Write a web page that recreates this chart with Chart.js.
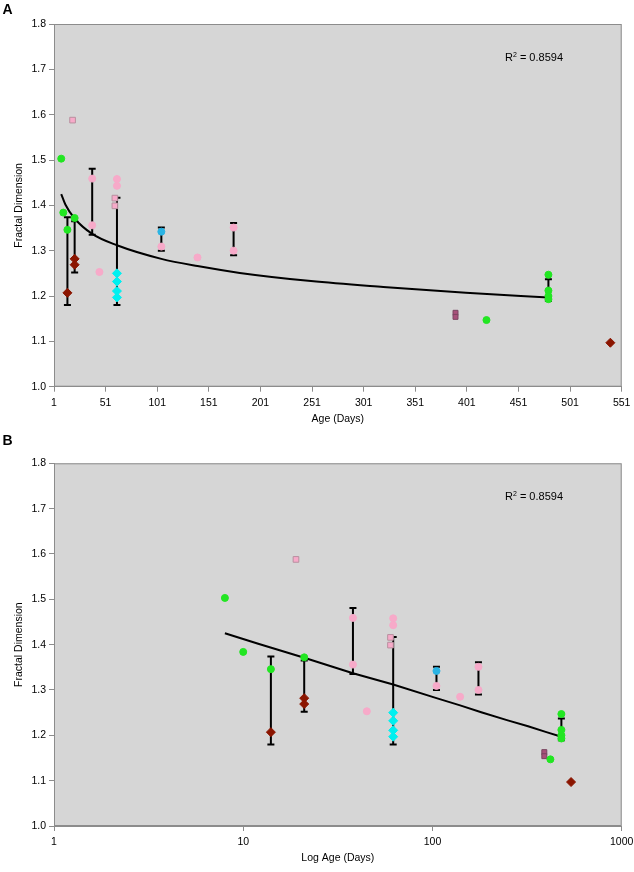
<!DOCTYPE html>
<html>
<head>
<meta charset="utf-8">
<script src="https://cdn.jsdelivr.net/npm/chart.js@4/dist/chart.umd.min.js"></script>
<style>
  html, body { margin: 0; padding: 0; background: #fff; }
  canvas { display: block; }
</style>
</head>
<body>
<canvas id="ageChart" width="634" height="430"></canvas>
<canvas id="logAgeChart" width="634" height="442"></canvas>
<script>
// tick labels
const yTicks = [1.0, 1.1, 1.2, 1.3, 1.4, 1.5, 1.6, 1.7, 1.8];
const ageTicks = [1, 51, 101, 151, 201, 251, 301, 351, 401, 451, 501, 551];
const logAgeTicks = [1, 10, 100, 1000];

const greenDays = [8, 10, 14, 21, 420, 480, 480, 480, 480];
const greenVals = [1.503, 1.384, 1.346, 1.372, 1.147, 1.247, 1.212, 1.200, 1.193];

const pinkDays = [38, 38, 45, 62, 62, 105, 140, 175, 175];
const pinkVals = [1.459, 1.356, 1.253, 1.458, 1.443, 1.309, 1.285, 1.351, 1.300];

const pinkSqDays = [19, 60, 60];
const pinkSqVals = [1.588, 1.416, 1.399];

const cyanDays = [62, 62, 62, 62];
const cyanVals = [1.250, 1.232, 1.211, 1.197];

const blueDays = [105];
const blueVals = [1.342];

const redDays = [14, 21, 21, 540];
const redVals = [1.207, 1.282, 1.269, 1.097];

const purpleDays = [390, 390];
const purpleVals = [1.163, 1.154];

// error bars
const errDays = [14, 21, 38, 62, 105, 175, 480];
const errHigh = [1.374, 1.365, 1.481, 1.417, 1.351, 1.361, 1.237];
const errLow = [1.180, 1.252, 1.335, 1.180, 1.300, 1.290, 1.189];

// log trend line
const trendDays = [8, 12, 21, 38, 62, 105, 140, 181, 250, 320, 400, 480];
const trendVals = [1.425, 1.402, 1.371, 1.337, 1.312, 1.282, 1.266, 1.251, 1.233, 1.220, 1.207, 1.197];

const rSquared = '0.8594';

Chart.defaults.font.family = '"Liberation Sans", Arial, sans-serif';
Chart.defaults.font.size = 10.5;
Chart.defaults.color = '#000';

const pts = (xs, ys) => xs.map((x, i) => ({ x: x, y: ys[i] }));

function makeDatasets(curved) {
  return [
    { data: pts(greenDays, greenVals), pointBackgroundColor: '#22e622', pointBorderColor: '#22e622', pointRadius: 3.5, pointStyle: 'circle' },
    { data: pts(pinkDays, pinkVals), pointBackgroundColor: '#f7aac9', pointBorderColor: '#f7aac9', pointRadius: 3.5, pointStyle: 'circle' },
    { data: pts(pinkSqDays, pinkSqVals), pointBackgroundColor: '#f7aac9', pointBorderColor: '#b8909f', pointBorderWidth: 1, pointRadius: 4, pointStyle: 'rect' },
    { data: pts(cyanDays, cyanVals), pointBackgroundColor: '#00f0f0', pointBorderColor: '#00f0f0', pointRadius: 4.5, pointStyle: 'rectRot' },
    { data: pts(blueDays, blueVals), pointBackgroundColor: '#2bb4e4', pointBorderColor: '#2bb4e4', pointRadius: 3.5, pointStyle: 'circle' },
    { data: pts(redDays, redVals), pointBackgroundColor: '#8b1500', pointBorderColor: '#8b1500', pointRadius: 4.5, pointStyle: 'rectRot' },
    { data: pts(purpleDays, purpleVals), pointBackgroundColor: '#a8507a', pointBorderColor: '#7a4560', pointBorderWidth: 1, pointRadius: 3.5, pointStyle: 'rect' },
    {
      data: pts(trendDays, trendVals), showLine: true, pointRadius: 0,
      borderColor: '#000', borderWidth: 2, fill: false,
      tension: curved ? 0.4 : 0, cubicInterpolationMode: curved ? 'monotone' : 'default'
    }
  ];
}

function panelPlugin(letter, letterY) {
  return {
    id: 'panel' + letter,
    beforeDraw(chart) {
      const { ctx, chartArea: a } = chart;
      ctx.save();
      ctx.fillStyle = '#d6d6d6';
      ctx.fillRect(a.left, a.top, a.right - a.left, a.bottom - a.top);
      ctx.strokeStyle = '#8c8c8c';
      ctx.lineWidth = 1;
      ctx.strokeRect(a.left + 0.5, a.top + 0.5, a.right - a.left - 1, a.bottom - a.top - 1);
      ctx.restore();
    },
    beforeDatasetsDraw(chart) {
      const { ctx } = chart;
      const xs = chart.scales.x, ys = chart.scales.y;
      ctx.save();
      ctx.strokeStyle = '#000';
      ctx.lineWidth = 2;
      errDays.forEach((d, i) => {
        const x = xs.getPixelForValue(d);
        const top = ys.getPixelForValue(errHigh[i]);
        const bot = ys.getPixelForValue(errLow[i]);
        ctx.beginPath();
        ctx.moveTo(x, top); ctx.lineTo(x, bot);
        ctx.moveTo(x - 3.5, top); ctx.lineTo(x + 3.5, top);
        ctx.moveTo(x - 3.5, bot); ctx.lineTo(x + 3.5, bot);
        ctx.stroke();
      });
      ctx.restore();
    },
    afterDraw(chart) {
      const { ctx, chartArea: a } = chart;
      ctx.save();
      ctx.fillStyle = '#000';
      ctx.textBaseline = 'alphabetic';
      ctx.font = 'bold 14px "Liberation Sans", Arial, sans-serif';
      ctx.fillText(letter, 2.5, letterY);
      // R squared label
      let x = a.left + 451, y = a.top + 36.7;
      ctx.font = '11px "Liberation Sans", Arial, sans-serif';
      ctx.fillText('R', x, y);
      x += ctx.measureText('R').width;
      ctx.font = '7px "Liberation Sans", Arial, sans-serif';
      ctx.fillText('2', x, y - 4);
      x += ctx.measureText('2').width;
      ctx.font = '11px "Liberation Sans", Arial, sans-serif';
      ctx.fillText(' = ' + rSquared, x, y);
      ctx.restore();
    }
  };
}

function yScale() {
  return {
    min: 1.0, max: 1.8,
    afterBuildTicks: s => { s.ticks = yTicks.map(v => ({ value: v })); },
    afterFit: s => { s.width = 54; s.paddingTop = 0; s.paddingBottom = 0; },
    ticks: { padding: 3, callback: v => Number(v).toFixed(1) },
    grid: { drawOnChartArea: false, drawTicks: true, tickLength: 5, color: '#8c8c8c' },
    border: { display: true, color: '#8c8c8c' },
    title: { display: true, text: 'Fractal Dimension', padding: { top: 13, bottom: 0 } }
  };
}

function xFit(h) {
  return s => { s.height = h; s.paddingLeft = 0; s.paddingRight = 0; };
}

new Chart(document.getElementById('ageChart').getContext('2d'), {
  type: 'scatter',
  data: { datasets: makeDatasets(true) },
  options: {
    responsive: false, animation: false,
    layout: { padding: { top: 24, right: 12.3, bottom: 0, left: 0 } },
    plugins: { legend: { display: false }, tooltip: { enabled: false } },
    scales: {
      x: {
        type: 'linear', min: 1, max: 551,
        afterBuildTicks: s => { s.ticks = ageTicks.map(v => ({ value: v })); },
        afterFit: xFit(43.3),
        ticks: { padding: 5, maxRotation: 0, callback: v => String(v) },
        grid: { drawOnChartArea: false, drawTicks: true, tickLength: 5, color: '#8c8c8c' },
        border: { display: true, color: '#8c8c8c' },
        title: { display: true, text: 'Age (Days)', padding: { top: 0, bottom: 4.7 } }
      },
      y: yScale()
    }
  },
  plugins: [panelPlugin('A', 14.3)]
});

new Chart(document.getElementById('logAgeChart').getContext('2d'), {
  type: 'scatter',
  data: { datasets: makeDatasets(false) },
  options: {
    responsive: false, animation: false,
    layout: { padding: { top: 33.3, right: 12.3, bottom: 0, left: 0 } },
    plugins: { legend: { display: false }, tooltip: { enabled: false } },
    scales: {
      x: {
        type: 'logarithmic', min: 1, max: 1000,
        afterBuildTicks: s => { s.ticks = logAgeTicks.map(v => ({ value: v, major: true })); },
        afterFit: xFit(46),
        ticks: { padding: 5, maxRotation: 0, autoSkip: false, callback: v => String(v) },
        grid: { drawOnChartArea: false, drawTicks: true, tickLength: 5, color: '#8c8c8c' },
        border: { display: true, color: '#8c8c8c' },
        title: { display: true, text: 'Log Age (Days)', padding: { top: 0, bottom: 7.7 } }
      },
      y: yScale()
    }
  },
  plugins: [panelPlugin('B', 15)]
});
</script>
</body>
</html>
